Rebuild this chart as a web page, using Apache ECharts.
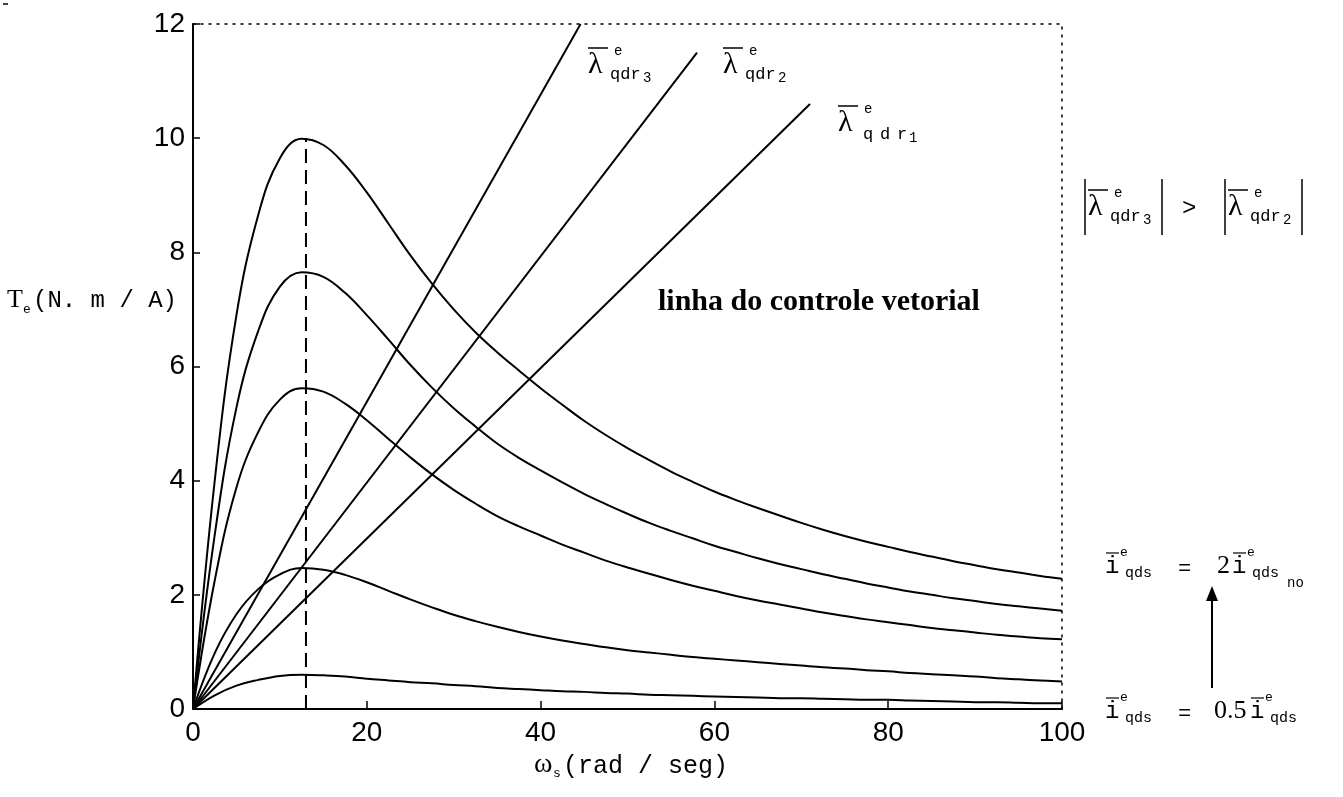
<!DOCTYPE html>
<html>
<head>
<meta charset="utf-8">
<script src="https://cdn.jsdelivr.net/npm/echarts@6/dist/echarts.min.js"></script>
<style>
  html, body { margin: 0; padding: 0; background: #fff; }
  #chart { width: 1343px; height: 797px; }
</style>
</head>
<body>
<div id="chart"></div>
<script>
// Slip frequency samples (rad/s), every 2.5
const omega = [0, 2.5, 5, 7.5, 10, 12.5, 15, 17.5, 20, 22.5, 25, 27.5, 30, 32.5, 35, 37.5, 40, 42.5, 45, 47.5, 50,
  52.5, 55, 57.5, 60, 62.5, 65, 67.5, 70, 72.5, 75, 77.5, 80, 82.5, 85, 87.5, 90, 92.5, 95, 97.5, 100];

// Torque per ampere for five stator current levels (highest first)
const torque1 = [0, 4.0, 6.9, 8.65, 9.65, 9.99, 9.88, 9.53, 9.05, 8.5, 7.95, 7.45, 7.0, 6.6, 6.25, 5.93, 5.62, 5.33, 5.05, 4.8, 4.57,
  4.36, 4.16, 3.98, 3.81, 3.66, 3.52, 3.39, 3.26, 3.14, 3.03, 2.93, 2.84, 2.75, 2.67, 2.59, 2.52, 2.45, 2.39, 2.33, 2.28];
const torque2 = [0, 3.05, 5.28, 6.62, 7.4, 7.65, 7.57, 7.29, 6.9, 6.47, 6.03, 5.63, 5.27, 4.95, 4.65, 4.4, 4.18, 3.97, 3.77, 3.59, 3.42,
  3.26, 3.12, 2.99, 2.86, 2.75, 2.64, 2.54, 2.45, 2.36, 2.28, 2.2, 2.13, 2.06, 2.0, 1.94, 1.89, 1.84, 1.8, 1.76, 1.72];
const torque3 = [0, 2.25, 3.88, 4.85, 5.42, 5.62, 5.56, 5.35, 5.06, 4.73, 4.41, 4.11, 3.84, 3.6, 3.38, 3.2, 3.04, 2.88, 2.74, 2.6, 2.48,
  2.37, 2.26, 2.16, 2.07, 1.98, 1.9, 1.83, 1.76, 1.69, 1.63, 1.57, 1.52, 1.47, 1.42, 1.38, 1.34, 1.3, 1.27, 1.24, 1.22];
const torque4 = [0, 0.98, 1.66, 2.1, 2.36, 2.47, 2.44, 2.35, 2.22, 2.07, 1.92, 1.78, 1.65, 1.54, 1.44, 1.35, 1.27, 1.2, 1.14, 1.08, 1.03,
  0.99, 0.95, 0.91, 0.88, 0.85, 0.82, 0.79, 0.76, 0.73, 0.71, 0.68, 0.66, 0.63, 0.61, 0.59, 0.57, 0.54, 0.52, 0.5, 0.48];
const torque5 = [0, 0.24, 0.41, 0.51, 0.58, 0.6, 0.59, 0.57, 0.53, 0.5, 0.47, 0.45, 0.42, 0.4, 0.37, 0.35, 0.33, 0.31, 0.3, 0.28, 0.27,
  0.25, 0.24, 0.23, 0.22, 0.21, 0.2, 0.19, 0.19, 0.18, 0.17, 0.16, 0.16, 0.15, 0.14, 0.13, 0.12, 0.12, 0.11, 0.1, 0.1];

// Constant rotor-flux lines (vector control): [omega, torque] end points
const fluxLine1 = [[0, 0], [71.0, 10.6]];
const fluxLine2 = [[0, 0], [58.0, 11.5]];
const fluxLine3 = [[0, 0], [44.6, 12.0]];

// Slip frequency of peak torque
const peakLine = [[13, 0], [13, 10]];

// Axis ticks
const xTicks = { min: 0, max: 100, step: 20 };
const yTicks = { min: 0, max: 12, step: 2 };

const SANS = '"Liberation Sans", Arial, sans-serif';
const SERIF = '"Liberation Serif", "Times New Roman", serif';
const MONO = '"Liberation Mono", "Courier New", monospace';

const pair = ys => omega.map((w, i) => [w, ys[i]]);
const ink = '#000';

const curveSeries = [torque1, torque2, torque3, torque4, torque5].map((ys, i) => ({
  name: 'i' + (i + 1),
  type: 'line',
  data: pair(ys),
  smooth: 0.4,
  showSymbol: false,
  lineStyle: { color: ink, width: 2 },
  z: 3
}));

const lineSeries = [fluxLine1, fluxLine2, fluxLine3].map((d, i) => ({
  name: 'lambda' + (i + 1),
  type: 'line',
  data: d,
  showSymbol: false,
  lineStyle: { color: ink, width: 2 },
  z: 3
}));

// Annotation helpers (baseline-positioned text)
const G = [];
function txt(x, base, s, size, fam, weight) {
  G.push({
    type: 'text', x: x, y: base - 0.32 * size, silent: true,
    style: {
      text: s, font: (weight || 'normal') + ' ' + size + 'px ' + fam, fill: ink,
      align: 'left', verticalAlign: 'middle', textAlign: 'left', textVerticalAlign: 'middle'
    }
  });
}
function seg(x1, y1, x2, y2, w) {
  G.push({ type: 'line', silent: true, shape: { x1, y1, x2, y2 }, style: { stroke: ink, lineWidth: w || 1.5 } });
}
function lambdaLabel(x0, y0, digit, wide) {
  txt(x0, y0, 'λ', 30, SERIF);
  seg(x0, y0 - 27, x0 + 20, y0 - 27, 1.5);
  txt(x0 + 26, y0 - 19, 'e', 14, MONO);
  if (wide) {
    txt(x0 + 25, y0 + 7, 'q', 17, MONO);
    txt(x0 + 42, y0 + 7, 'd', 17, MONO);
    txt(x0 + 59, y0 + 7, 'r', 17, MONO);
    txt(x0 + 71, y0 + 10, digit, 14, MONO);
  } else {
    txt(x0 + 22, y0 + 5, 'qdr', 17, MONO);
    txt(x0 + 55, y0 + 8, digit, 14, MONO);
  }
}
function iBar(x0, base) {
  txt(x0, base, 'i', 24, MONO);
  seg(x0 + 1, base - 21, x0 + 14, base - 21, 1.2);
  txt(x0 + 15, base - 17, 'e', 13, MONO);
  txt(x0 + 20, base + 4, 'qds', 15, MONO);
}

// Flux line labels
lambdaLabel(588, 75, '3');
lambdaLabel(723, 75, '2');
lambdaLabel(838, 133, '1', true);

// |λ3| > |λ2|
seg(1085, 179, 1085, 235);
lambdaLabel(1088, 217, '3');
seg(1162, 179, 1162, 235);
txt(1182, 216, '>', 24, MONO);
seg(1225, 179, 1225, 235);
lambdaLabel(1228, 217, '2');
seg(1302, 179, 1302, 235);

// Vector-control line caption
txt(658, 312, 'linha do controle vetorial', 30, SERIF, 'bold');

// Stator current range
iBar(1105, 574);
txt(1178, 576, '=', 22, MONO);
txt(1217, 574, '2', 26, SERIF);
iBar(1232, 574);
txt(1287, 588, 'no', 14, MONO);

iBar(1105, 719);
txt(1178, 721, '=', 22, MONO);
txt(1214, 719, '0.5', 26, SERIF);
iBar(1250, 719);

// Arrow from low to high current
seg(1212, 688, 1212, 598, 2);
G.push({ type: 'polygon', silent: true, shape: { points: [[1206, 601], [1218, 601], [1212, 586]] }, style: { fill: ink } });

// Axis titles
txt(7, 308, 'T', 26, SERIF);
txt(23, 314, 'e', 13, MONO);
txt(33, 308, '(N. m / A)', 24, MONO);

txt(534, 774, 'ω', 28, SERIF);
txt(553, 778, 's', 13, MONO);
txt(563, 774, '(rad / seg)', 25, MONO);

// small mark at the corner
seg(3, 4, 8, 4, 1.5);

const chart = echarts.init(document.getElementById('chart'), null, { renderer: 'canvas' });
chart.setOption({
  animation: false,
  backgroundColor: '#fff',
  grid: { left: 193, right: 281, top: 24, bottom: 88 },
  xAxis: [{
    type: 'value', min: xTicks.min, max: xTicks.max, interval: xTicks.step,
    axisLine: { show: true, onZero: false, lineStyle: { color: ink, width: 2 } },
    axisTick: { show: true, inside: true, length: 8, lineStyle: { color: ink, width: 1.5 } },
    axisLabel: { color: ink, fontSize: 28, fontFamily: SANS, margin: 10 },
    splitLine: { show: false }
  }, {
    type: 'value', position: 'top', min: xTicks.min, max: xTicks.max,
    axisLine: { show: true, onZero: false, lineStyle: { color: ink, width: 1.5, type: [2, 6] } },
    axisTick: { show: false }, axisLabel: { show: false }, splitLine: { show: false }
  }],
  yAxis: [{
    type: 'value', min: yTicks.min, max: yTicks.max, interval: yTicks.step,
    axisLine: { show: true, onZero: false, lineStyle: { color: ink, width: 2 } },
    axisTick: { show: true, inside: true, length: 7, lineStyle: { color: ink, width: 1.5 } },
    axisLabel: { color: ink, fontSize: 28, fontFamily: SANS, margin: 8 },
    splitLine: { show: false }
  }, {
    type: 'value', position: 'right', min: yTicks.min, max: yTicks.max,
    axisLine: { show: true, onZero: false, lineStyle: { color: ink, width: 1.5, type: [2, 6] } },
    axisTick: { show: false }, axisLabel: { show: false }, splitLine: { show: false }
  }],
  series: [
    ...curveSeries,
    ...lineSeries,
    {
      name: 'peak', type: 'line', data: peakLine, showSymbol: false,
      lineStyle: { color: ink, width: 2, type: [14, 7] }, z: 2
    }
  ],
  graphic: G
});
</script>
</body>
</html>
